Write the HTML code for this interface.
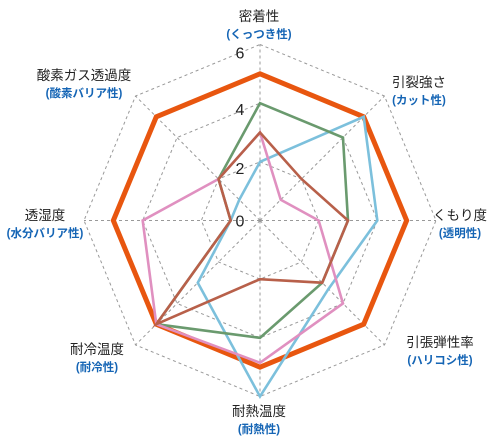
<!DOCTYPE html>
<html><head><meta charset="utf-8"><style>
body{margin:0;background:#fff;width:492px;height:444px;overflow:hidden}
svg{display:block}
text{font-family:"Liberation Sans","Noto Sans CJK JP",sans-serif}
.lb{font-size:13.5px;fill:#222}
.sb{font-size:11.5px;fill:#1565b5;font-weight:bold}
.tk{font-size:16px;fill:#222}
</style></head><body>
<svg id="chart" width="492" height="444" viewBox="0 0 492 444">
<g id="grid"></g>
<g id="series"></g>
<g id="labels"></g>
</svg>
<script>
const categories=["密着性","引裂強さ","くもり度","引張弾性率","耐熱温度","耐冷温度","透湿度","酸素ガス透過度"];
const subLabels=["(くっつき性)","(カット性)","(透明性)","(ハリコシ性)","(耐熱性)","(耐冷性)","(水分バリア性)","(酸素バリア性)"];
const tickValues=[0,2,4,6];
const seriesOrange=[5,5,5,5,5,5,5,5];
const seriesBlue=[2,5,4,3.3,6,3,1,1];
const seriesGreen=[4,4,3,3,4,5,1,2];
const seriesPink=[3,1,2,4,4.85,5,4,2];
const seriesBrown=[3,2,3,3,2,5,1,2];
const cx=260,cy=220.5,R=176,maxV=6;
const NS="http://www.w3.org/2000/svg";
function pt(i,v){const a=-Math.PI/2+i*Math.PI/4;const r=v/maxV*R;return [cx+r*Math.cos(a),cy+r*Math.sin(a)];}
function mk(tag,attrs,parent){const e=document.createElementNS(NS,tag);for(const k in attrs)e.setAttribute(k,attrs[k]);parent.appendChild(e);return e;}
const grid=document.getElementById('grid');
tickValues.filter(v=>v>0).forEach(v=>{
 const p=mk('polygon',{points:categories.map((c,i)=>pt(i,v).join(',')).join(' '),fill:'none',stroke:'#999','stroke-width':1,'stroke-dasharray':'3,3'},grid);
 
 
});
categories.forEach((c,i)=>{
 const [x,y]=pt(i,maxV);
 const l=mk('line',{x1:cx,y1:cy,x2:x,y2:y,stroke:'#999','stroke-width':1,'stroke-dasharray':'3,3'},grid);
 
 
});
const sg=document.getElementById('series');
[[seriesOrange,'#e8560f',5,'series-orange'],[seriesBlue,'#7cc0dc',2.6,'series-blue'],[seriesGreen,'#6a9a6e',2.6,'series-green'],[seriesPink,'#e090c0',2.6,'series-pink'],[seriesBrown,'#b8604a',2.6,'series-brown']].forEach(([d,col,w,n])=>{
 const p=mk('polygon',{points:d.map((v,i)=>pt(i,v).join(',')).join(' '),fill:'none',stroke:col,'stroke-width':w,'stroke-linejoin':'miter'},sg);
 
 
});
const lg=document.getElementById('labels');
tickValues.forEach(v=>{
 const t=mk('text',{x:240,y:cy-v/maxV*R+(v===0?6:(v===6?14:12)),'text-anchor':'middle',class:'tk'},lg);
 t.textContent=v;
 
 
});
const lpos=[[259,21],[419,87],[460,220],[440,347],[259,416],[97,354],[45,220],[84,80]];
categories.forEach((c,i)=>{
 const [x,y]=lpos[i];
 const t=mk('text',{x:x,y:y,'text-anchor':'middle',class:'lb'},lg);
 t.textContent=c;
 
 
 const s=mk('text',{x:x,y:y+17,'text-anchor':'middle',class:'sb'},lg);
 s.textContent=subLabels[i];
 
 
});
</script>
</body></html>
